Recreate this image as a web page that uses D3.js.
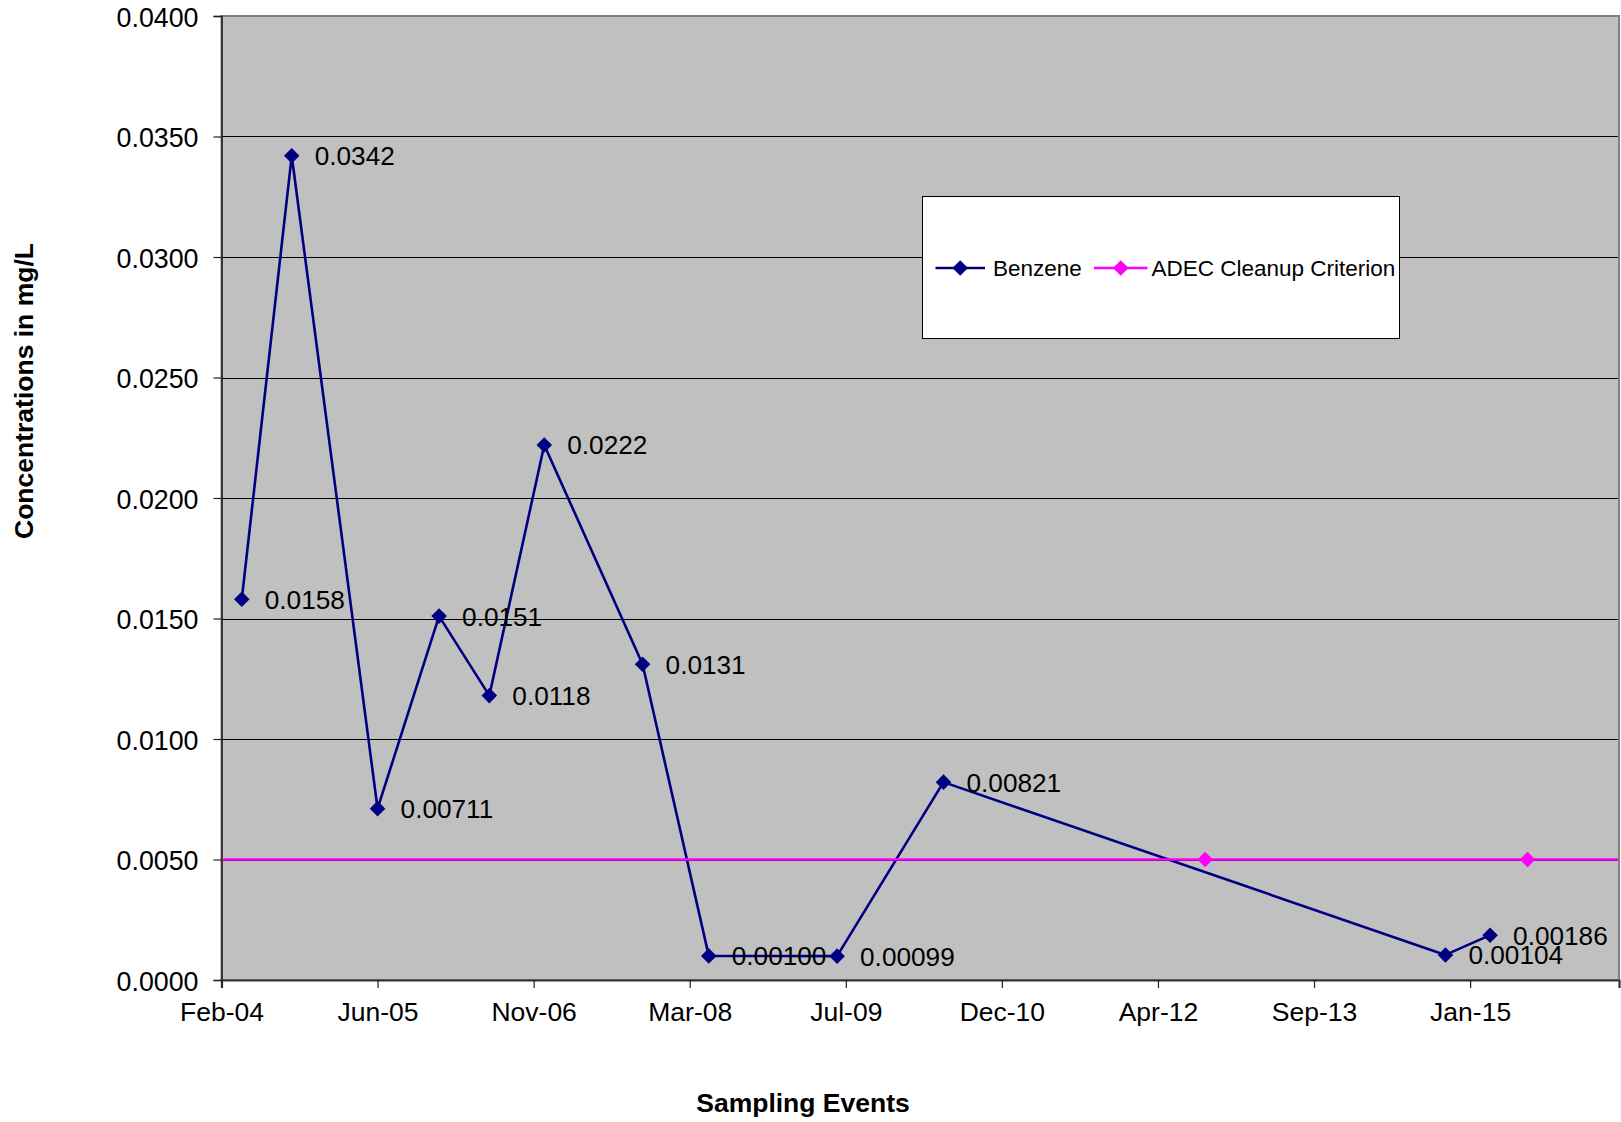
<!DOCTYPE html>
<html>
<head>
<meta charset="utf-8">
<script src="https://cdn.jsdelivr.net/npm/d3@7"></script>
<style>
  html, body { margin: 0; padding: 0; background: #fff; }
  svg { display: block; font-family: "Liberation Sans", Arial, sans-serif; }
</style>
</head>
<body>
<svg id="chart" width="1621" height="1122"></svg>
<script>
// Benzene sampling results (mg/L)
const sampleDates = ["2004-04-11", "2004-09-18", "2005-06-20", "2006-01-03", "2006-06-13",
                     "2006-12-06", "2007-10-17", "2008-05-16", "2009-07-01", "2010-06-07",
                     "2014-11-01", "2015-03-24"];
const benzene = [0.0158, 0.0342, 0.00711, 0.0151, 0.0118, 0.0222, 0.0131,
                 0.00100, 0.00099, 0.00821, 0.00104, 0.00186];
const benzeneLabels = ["0.0158", "0.0342", "0.00711", "0.0151", "0.0118", "0.0222", "0.0131",
                       "0.00100", "0.00099", "0.00821", "0.00104", "0.00186"];

// ADEC cleanup criterion (mg/L)
const criterionDates = ["2012-09-22", "2015-07-22"];
const criterion = [0.005, 0.005];

// Axis settings
const xDomain = ["2004-02-06", "2016-05-10"];
const xTickDates = ["2004-02-06", "2005-06-20", "2006-11-02", "2008-03-16", "2009-07-29",
                    "2010-12-11", "2012-04-24", "2013-09-06", "2015-01-19"];
const xTickLabels = ["Feb-04", "Jun-05", "Nov-06", "Mar-08", "Jul-09", "Dec-10", "Apr-12", "Sep-13", "Jan-15"];
const yTicks = [0, 0.005, 0.010, 0.015, 0.020, 0.025, 0.030, 0.035, 0.040];
const legendNames = ["Benzene", "ADEC Cleanup Criterion"];

const parse = d3.utcParse("%Y-%m-%d");
const plot = { left: 221.5, top: 16, right: 1619, bottom: 980 };
const fontFamily = "'Liberation Sans', Arial, sans-serif";

const svg = d3.select("#chart");

const x = d3.scaleUtc().domain(xDomain.map(parse)).range([plot.left, plot.right]);
const y = d3.scaleLinear().domain([0, 0.04]).range([plot.bottom, plot.top]);

// Plot area background
svg.append("rect")
  .attr("x", plot.left).attr("y", plot.top)
  .attr("width", plot.right - plot.left).attr("height", plot.bottom - plot.top)
  .attr("fill", "#c0c0c0");

// Horizontal gridlines
svg.append("g")
  .selectAll("line")
  .data(yTicks.filter(d => d > 0 && d < 0.04))
  .join("line")
  .attr("x1", plot.left).attr("x2", plot.right)
  .attr("y1", d => Math.round(y(d)) + 0.5).attr("y2", d => Math.round(y(d)) + 0.5)
  .attr("stroke", "#000").attr("stroke-width", 1);

// Plot area border
svg.append("rect")
  .attr("x", plot.left).attr("y", plot.top)
  .attr("width", plot.right - plot.left).attr("height", plot.bottom - plot.top)
  .attr("fill", "none").attr("stroke", "#808080").attr("stroke-width", 2);

// Y axis
const yAxis = d3.axisLeft(y).tickValues(yTicks).tickFormat(d3.format(".4f")).tickSize(8).tickPadding(15);
const gy = svg.append("g").attr("transform", `translate(${plot.left},0)`).call(yAxis);
gy.select(".domain").attr("stroke", "#222").attr("stroke-width", 1.6);
gy.selectAll(".tick line").attr("stroke", "#222").attr("stroke-width", 1.2);
gy.selectAll(".tick text").attr("font-size", "26.8px").attr("fill", "#000")
  .attr("font-family", fontFamily).attr("dy", "0.38em");

// X axis
const tickByTime = new Map(xTickDates.map((d, i) => [+parse(d), xTickLabels[i]]));
const xAxis = d3.axisBottom(x).tickValues(xTickDates.map(parse))
  .tickFormat(d => tickByTime.get(+d)).tickSize(8).tickPadding(14);
const gx = svg.append("g").attr("transform", `translate(0,${plot.bottom})`).call(xAxis);
gx.select(".domain").attr("stroke", "#333").attr("stroke-width", 2.2);
gx.selectAll(".tick line").attr("stroke", "#222").attr("stroke-width", 1.2);
gx.selectAll(".tick text").attr("font-size", "26.5px").attr("fill", "#000")
  .attr("font-family", fontFamily);

// Axis titles
svg.append("text")
  .attr("transform", "translate(33,391) rotate(-90)")
  .attr("text-anchor", "middle")
  .attr("font-size", "26.5px").attr("font-weight", "bold")
  .text("Concentrations in mg/L");

svg.append("text")
  .attr("x", 803).attr("y", 1112)
  .attr("text-anchor", "middle")
  .attr("font-size", "26.5px").attr("font-weight", "bold")
  .text("Sampling Events");

const diamond = d3.symbol().type(d3.symbolDiamond2).size(155);
const benzeneColor = "#000080";
const criterionColor = "#ff00ff";

// Benzene series
const benzeneData = sampleDates.map((d, i) => ({ date: parse(d), value: benzene[i], label: benzeneLabels[i] }));
const line = d3.line().x(d => x(d.date)).y(d => y(d.value));

svg.append("path")
  .datum(benzeneData)
  .attr("d", line)
  .attr("fill", "none").attr("stroke", benzeneColor).attr("stroke-width", 2.6)
  .attr("stroke-linejoin", "round");

svg.append("g")
  .selectAll("path")
  .data(benzeneData)
  .join("path")
  .attr("d", diamond)
  .attr("transform", d => `translate(${x(d.date)},${y(d.value)})`)
  .attr("fill", benzeneColor);

// ADEC criterion series: level line across the plot with its markers
const criterionData = criterionDates.map((d, i) => ({ date: parse(d), value: criterion[i] }));
svg.append("line")
  .attr("x1", plot.left + 1).attr("x2", plot.right - 1)
  .attr("y1", y(criterion[0])).attr("y2", y(criterion[0]))
  .attr("stroke", criterionColor).attr("stroke-width", 2.6);

svg.append("g")
  .selectAll("path")
  .data(criterionData)
  .join("path")
  .attr("d", diamond)
  .attr("transform", d => `translate(${x(d.date)},${y(d.value)})`)
  .attr("fill", criterionColor);

// Data labels
svg.append("g")
  .selectAll("text")
  .data(benzeneData)
  .join("text")
  .attr("x", d => x(d.date) + 23)
  .attr("y", d => y(d.value))
  .attr("dy", "0.36em")
  .attr("font-size", "26.2px")
  .attr("fill", "#000")
  .text(d => d.label);

// Legend
const legend = svg.append("g");
legend.append("rect")
  .attr("x", 922.5).attr("y", 196.5).attr("width", 477).attr("height", 142)
  .attr("fill", "#fff").attr("stroke", "#000").attr("stroke-width", 1);

const legendItems = [
  { name: legendNames[0], color: benzeneColor, x0: 935.5, x1: 985, tx: 993 },
  { name: legendNames[1], color: criterionColor, x0: 1094, x1: 1147.5, tx: 1151.5 }
];
const ly = 268;
legendItems.forEach(it => {
  legend.append("line")
    .attr("x1", it.x0).attr("x2", it.x1).attr("y1", ly).attr("y2", ly)
    .attr("stroke", it.color).attr("stroke-width", 2.6);
  legend.append("path")
    .attr("d", diamond)
    .attr("transform", `translate(${(it.x0 + it.x1) / 2},${ly})`)
    .attr("fill", it.color);
  legend.append("text")
    .attr("x", it.tx).attr("y", ly).attr("dy", "0.36em")
    .attr("font-size", "22.5px").attr("fill", "#000")
    .text(it.name);
});
</script>
</body>
</html>
